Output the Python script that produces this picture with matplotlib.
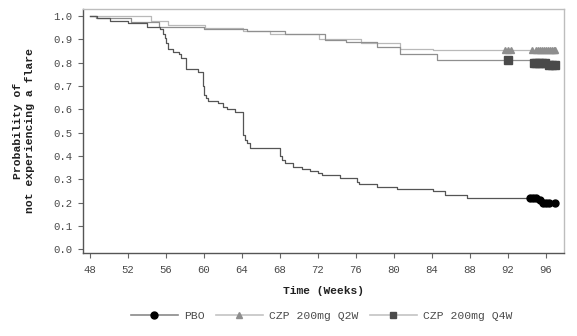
"""
Kaplan-Meier style plot: probability of not experiencing a flare,
weeks 48-97, PBO vs CZP 200mg Q2W vs CZP 200mg Q4W.
"""

import matplotlib
matplotlib.use("Agg")
import matplotlib.pyplot as plt
from matplotlib.lines import Line2D

plt.rcParams["font.family"] = ["Liberation Mono", "DejaVu Sans Mono"]

# --------------------------------------------------
# Survival steps (week, probability) for each arm
# --------------------------------------------------
pbo_weeks = [48.0, 48.7, 50.1, 52.0, 54.0, 55.4, 55.7, 55.9, 56.0, 56.2,
             56.7, 57.4, 57.6, 58.1, 59.4, 59.9, 60.0, 60.2, 60.4, 61.5,
             62.0, 62.4, 63.3, 64.1, 64.3, 64.5, 64.8, 68.0, 68.2, 68.5,
             69.4, 70.3, 71.2, 72.0, 72.4, 74.3, 76.1, 76.3, 78.2, 80.3,
             84.1, 85.4, 87.7, 95.3, 95.5, 97.0]
pbo_surv = [1.0, 0.99, 0.98, 0.969, 0.954, 0.943, 0.925, 0.905, 0.883, 0.857,
            0.847, 0.836, 0.819, 0.771, 0.761, 0.70, 0.66, 0.647, 0.637, 0.626,
            0.611, 0.60, 0.59, 0.49, 0.468, 0.454, 0.433, 0.40, 0.383, 0.369,
            0.354, 0.344, 0.336, 0.326, 0.318, 0.307, 0.29, 0.28, 0.268, 0.258,
            0.25, 0.233, 0.221, 0.21, 0.197, 0.197]
pbo_cens_weeks = [94.3, 94.6, 95.0, 95.4, 95.7, 96.0, 96.3, 96.9]
pbo_cens_surv = [0.221, 0.221, 0.221, 0.21, 0.197, 0.197, 0.197, 0.197]

q2w_weeks = [48.0, 54.4, 56.2, 60.1, 64.1, 66.9, 72.1, 76.5, 80.6, 84.1, 97.0]
q2w_surv = [1.0, 0.978, 0.961, 0.947, 0.935, 0.923, 0.90, 0.883, 0.86, 0.854,
            0.854]
q2w_cens_weeks = [91.7, 92.0, 92.3, 94.5, 94.9, 95.2, 95.4, 95.6, 95.8, 96.0,
                  96.2, 96.4, 96.6, 96.8, 97.0]
q2w_cens_surv = [0.854] * 15

q4w_weeks = [48.0, 48.6, 52.3, 55.3, 60.0, 64.5, 68.5, 72.7, 75.0, 78.2,
             80.6, 84.5, 94.6, 96.2, 97.0]
q4w_surv = [1.0, 0.99, 0.975, 0.955, 0.945, 0.935, 0.923, 0.897, 0.89, 0.868,
            0.836, 0.811, 0.80, 0.79, 0.79]
q4w_cens_weeks = [92.0, 94.7, 95.0, 95.3, 95.6, 95.9, 96.3, 96.6, 96.9]
q4w_cens_surv = [0.811, 0.80, 0.80, 0.80, 0.80, 0.80, 0.79, 0.79, 0.79]

x_ticks = list(range(48, 97, 4))
y_ticks = [i / 10 for i in range(11)]

# --------------------------------------------------
# Styles
# --------------------------------------------------
pbo_line, pbo_mark = "#555555", "#000000"
q2w_line, q2w_mark = "#b9b9b9", "#8e8e8e"
q4w_line, q4w_mark = "#8f8f8f", "#4a4a4a"
txt_col = "#4a4a4a"

fig = plt.figure(figsize=(5.77, 3.36), dpi=100)
ax = fig.add_axes([0.1438, 0.247, 0.8337, 0.726])

ax.step(q2w_weeks, q2w_surv, where="post", color=q2w_line, lw=0.9)
ax.step(q4w_weeks, q4w_surv, where="post", color=q4w_line, lw=0.9)
ax.step(pbo_weeks, pbo_surv, where="post", color=pbo_line, lw=0.9)

ax.plot(q2w_cens_weeks, q2w_cens_surv, ls="none", marker="^", ms=4.5,
        color=q2w_mark, mec=q2w_mark)
ax.plot(q4w_cens_weeks, q4w_cens_surv, ls="none", marker="s", ms=5.5,
        color=q4w_mark, mec=q4w_mark)
ax.plot(pbo_cens_weeks, pbo_cens_surv, ls="none", marker="o", ms=5,
        color=pbo_mark, mec=pbo_mark)

ax.set_xlim(47.26, 97.9)
ax.set_ylim(-0.016, 1.03)
ax.set_xticks(x_ticks)
ax.set_yticks(y_ticks)
ax.set_yticklabels([f"{v:.1f}" for v in y_ticks])

ax.tick_params(axis="both", direction="out", length=3.5, width=0.8,
               color="#666666", labelcolor=txt_col, labelsize=7.7, pad=4)
ax.tick_params(axis="x", pad=5)

for side in ("left", "bottom"):
    ax.spines[side].set_color("#555555")
    ax.spines[side].set_linewidth(1.0)
for side in ("top", "right"):
    ax.spines[side].set_color("#bdbdbd")
    ax.spines[side].set_linewidth(1.0)

ax.set_xlabel("Time (Weeks)", fontsize=8.1, fontweight="bold", color="#202020",
              labelpad=8)
fig.text(24 / 577, 1 - 131 / 336, "Probability of\nnot experiencing a flare",
         rotation=90, ha="center", va="center", multialignment="center",
         fontsize=8.2, fontweight="bold", color="#202020", linespacing=1.35)

# --------------------------------------------------
# Legend, one entry per arm along the bottom
# --------------------------------------------------
entries = [
    (Line2D([], [], color="#8a8a8a", lw=1.2, marker="o", ms=5,
            mfc=pbo_mark, mec=pbo_mark), "PBO", 131),
    (Line2D([], [], color="#c4c4c4", lw=1.2, marker="^", ms=4.5,
            mfc=q2w_mark, mec=q2w_mark), "CZP 200mg Q2W", 216),
    (Line2D([], [], color="#c4c4c4", lw=1.2, marker="s", ms=4,
            mfc=q4w_mark, mec=q4w_mark), "CZP 200mg Q4W", 370),
]
for handle, label, x0 in entries:
    fig.legend([handle], [label], loc="center left",
               bbox_to_anchor=(x0 / 577, 1 - 316 / 336), frameon=False,
               fontsize=8.2, labelcolor=txt_col, handlelength=4.1,
               handletextpad=0.55, borderpad=0, borderaxespad=0)

fig.savefig("out.png", dpi=100)
